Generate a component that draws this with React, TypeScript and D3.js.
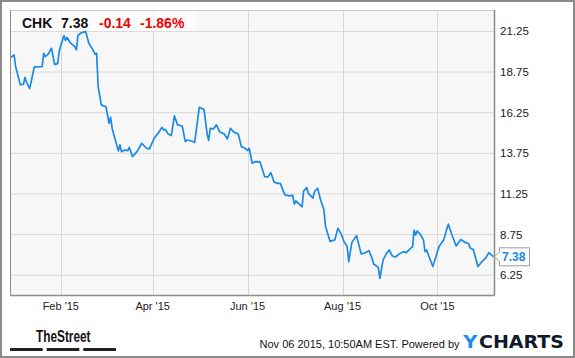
import React from "react";
import * as d3 from "d3";

const dates = [
  "2014-12-31","2015-01-02","2015-01-03","2015-01-06","2015-01-08","2015-01-09","2015-01-10","2015-01-12",
  "2015-01-14","2015-01-15","2015-01-20","2015-01-21","2015-01-22","2015-01-24","2015-01-26","2015-01-28",
  "2015-01-30","2015-01-31","2015-02-03","2015-02-04","2015-02-05","2015-02-07","2015-02-10","2015-02-11",
  "2015-02-12","2015-02-14","2015-02-17","2015-02-19","2015-02-21","2015-02-23","2015-02-24","2015-02-25",
  "2015-02-27","2015-03-02","2015-03-04","2015-03-05","2015-03-06","2015-03-08","2015-03-10","2015-03-11",
  "2015-03-12","2015-03-14","2015-03-16","2015-03-17","2015-03-18","2015-03-19","2015-03-22","2015-03-25",
  "2015-03-28","2015-03-30","2015-04-02","2015-04-05","2015-04-07","2015-04-08","2015-04-09","2015-04-11",
  "2015-04-13","2015-04-15","2015-04-17","2015-04-20","2015-04-22","2015-04-23","2015-04-26","2015-04-28",
  "2015-05-01","2015-05-04","2015-05-06","2015-05-07","2015-05-08","2015-05-10","2015-05-12","2015-05-14",
  "2015-05-17","2015-05-19","2015-05-21","2015-05-23","2015-05-26","2015-05-28","2015-05-30","2015-06-01",
  "2015-06-02","2015-06-04","2015-06-06","2015-06-09","2015-06-12","2015-06-14","2015-06-16","2015-06-18",
  "2015-06-20","2015-06-22","2015-06-25","2015-06-28","2015-06-30","2015-07-01","2015-07-02","2015-07-06",
  "2015-07-07","2015-07-09","2015-07-10","2015-07-13","2015-07-14","2015-07-16","2015-07-18","2015-07-20",
  "2015-07-21","2015-07-24","2015-07-27","2015-07-29","2015-07-31","2015-08-02","2015-08-04","2015-08-05",
  "2015-08-07","2015-08-10","2015-08-13","2015-08-15","2015-08-18","2015-08-20","2015-08-21","2015-08-24",
  "2015-08-25","2015-08-27","2015-08-29","2015-08-31","2015-09-02","2015-09-04","2015-09-06","2015-09-09",
  "2015-09-11","2015-09-14","2015-09-15","2015-09-16","2015-09-17","2015-09-18","2015-09-20","2015-09-22",
  "2015-09-23","2015-09-24","2015-09-26","2015-09-28","2015-09-30","2015-10-02","2015-10-05","2015-10-07",
  "2015-10-08","2015-10-10","2015-10-13","2015-10-16","2015-10-19","2015-10-21","2015-10-22","2015-10-24",
  "2015-10-27","2015-10-29","2015-11-01","2015-11-03","2015-11-06"
];

const prices = [
  19.66,19.8,19.08,17.96,18.0,18.42,18.13,17.73,
  18.63,19.07,19.08,19.91,19.7,19.87,20.22,19.22,
  19.27,20.05,21.0,20.7,20.88,20.56,20.31,20.11,
  20.99,21.16,21.24,20.52,20.22,19.85,19.91,17.85,
  16.73,16.62,15.6,15.97,15.28,14.57,13.9,14.27,
  13.85,13.96,13.91,14.12,13.85,13.55,13.85,14.37,
  14.06,14.02,14.68,15.05,15.35,15.19,15.23,14.94,
  14.84,16.05,15.5,15.43,14.47,14.57,14.51,14.43,
  16.59,16.45,14.94,14.55,15.29,15.25,15.5,15.08,
  14.94,14.63,15.29,15.07,14.94,14.16,14.08,13.93,
  14.06,13.14,13.24,13.22,12.31,12.3,12.56,11.99,
  11.9,11.9,11.19,11.13,11.16,10.63,10.82,10.45,
  11.43,11.65,11.29,10.99,11.4,11.6,10.85,10.31,
  9.28,8.33,8.42,9.13,8.82,8.31,8.01,7.08,
  8.27,8.68,7.56,7.6,7.76,7.28,6.94,6.73,
  6.06,7.16,7.56,7.8,7.43,7.37,7.53,7.7,
  7.64,7.93,7.99,9.03,8.73,8.97,8.76,8.42,
  7.7,7.8,7.29,6.78,7.37,8.01,8.42,9.1,
  9.39,8.82,8.05,8.45,8.25,8.2,7.93,7.83,
  6.78,7.02,7.31,7.64,7.38
];

const xTickDates = ["2015-02-01", "2015-04-01", "2015-06-01", "2015-08-01", "2015-10-01"];
const yTicks = [6.25, 8.75, 11.25, 13.75, 16.25, 18.75, 21.25];
const xDomain = ["2014-12-31", "2015-11-06"];
const yDomain = [5.0, 22.57];

const ticker = "CHK";
const lastPrice = 7.38;
const change = "-0.14";
const changePct = "-1.86%";
const footerText = "Nov 06 2015, 10:50AM EST. Powered by";

const W = 575;
const H = 358;
const PL = 10, PR = 494.5, PT = 10, PB = 295.5;

const parse = d3.timeParse("%Y-%m-%d");
const fmtTick = d3.timeFormat("%b '%y");

export default function App() {
  React.useEffect(() => {
    document.body.style.margin = "0";
  }, []);

  const x = d3.scaleTime().domain(xDomain.map((d) => parse(d) as Date)).range([11, 493.5]);
  const y = d3.scaleLinear().domain(yDomain).range([PB, PT]);

  const pts = dates.map((d, i) => ({ date: parse(d) as Date, v: prices[i] }));
  const line = d3
    .line<{ date: Date; v: number }>()
    .x((d) => x(d.date))
    .y((d) => y(d.v));

  const lineColor = "#1a8ae6";
  const axisFont = "Liberation Sans, Arial, sans-serif";
  const ly = y(lastPrice);

  return (
    <svg
      width={W}
      height={H}
      style={{ position: "absolute", left: 0, top: 0, display: "block" }}
      fontFamily={axisFont}
    >
      <rect x={0} y={0} width={W} height={H} fill="#ffffff" />
      <rect x={PL} y={PT} width={PR - PL} height={PB - PT} fill="#f7f7f7" />
      {yTicks.map((t) => (
        <line key={"gy" + t} x1={PL} x2={PR} y1={y(t)} y2={y(t)} stroke="#d8d8d8" strokeWidth={1} />
      ))}
      {xTickDates.map((t) => {
        const xx = Math.round(x(parse(t) as Date)) + 0.5;
        return <line key={"gx" + t} x1={xx} x2={xx} y1={PT} y2={PB} stroke="#d8d8d8" strokeWidth={1} />;
      })}
      <path d={line(pts) || ""} fill="none" stroke={lineColor} strokeWidth={1.7} strokeLinejoin="round" />

      <rect x={PL + 0.5} y={PT + 0.5} width={185} height={20.5} fill="#ffffff" fillOpacity={0.65} />
      <text x={22} y={28} fontSize={14} fontWeight="bold" fill="#111">{ticker}</text>
      <text x={61} y={28} fontSize={14} fontWeight="bold" fill="#111">{lastPrice.toFixed(2)}</text>
      <text x={99} y={28} fontSize={14} fontWeight="bold" fill="#ee0000">{change}</text>
      <text x={140} y={28} fontSize={14} fontWeight="bold" fill="#ee0000">{changePct}</text>

      <line x1={PL} x2={PR} y1={PT + 0.5} y2={PT + 0.5} stroke="#cccccc" />
      <line x1={PL + 0.5} x2={PL + 0.5} y1={PT} y2={PB} stroke="#8c8c8c" />
      <line x1={PR} x2={PR} y1={PT} y2={PB} stroke="#8c8c8c" strokeWidth={1.5} />
      <line x1={PL} x2={PR} y1={PB} y2={PB} stroke="#8c8c8c" strokeWidth={1.5} />

      <path
        d={`M${PR},${ly} L${PR + 5},${ly - 5} L${PR + 5},${ly - 9} L${PR + 35},${ly - 9} L${PR + 35},${ly + 9} L${PR + 5},${ly + 9} L${PR + 5},${ly + 5} Z`}
        fill="#ffffff"
        stroke="#9a9a9a"
        strokeWidth={1}
      />
      <text x={PR + 7.5} y={ly + 4.5} fontSize={12} fontWeight="bold" fill={lineColor}>
        {lastPrice.toFixed(2)}
      </text>

      {yTicks.map((t) => (
        <text key={"ty" + t} x={500} y={y(t) + 4} fontSize={11.5} fill="#222">
          {t.toFixed(2)}
        </text>
      ))}
      {xTickDates.map((t) => (
        <text key={"tx" + t} x={x(parse(t) as Date)} y={309.5} fontSize={11} fill="#222" textAnchor="middle">
          {fmtTick(parse(t) as Date)}
        </text>
      ))}

      <text
        x={36}
        y={341.5}
        fontSize={16}
        fontWeight="bold"
        fontFamily="Liberation Sans Narrow, Liberation Sans, Arial, sans-serif"
        fill="#111"
        textLength={54.5}
        lengthAdjust="spacingAndGlyphs"
      >
        TheStreet
      </text>
      <rect x={10} y={348} width={32.7} height={3} fill="#222" />
      <rect x={46.7} y={348} width={32.6} height={3} fill="#222" />
      <rect x={83.3} y={348} width={32.7} height={3} fill="#222" />

      <text x={459.5} y={348.3} fontSize={11} fill="#111" textAnchor="end">
        {footerText}
      </text>
      <text
        x={463.3}
        y={348.3}
        fontSize={17}
        fontWeight="bold"
        fontFamily="DejaVu Sans, sans-serif"
        fill="#1a8cf0"
        textLength={14}
        lengthAdjust="spacingAndGlyphs"
      >
        Y
      </text>
      <text
        x={479}
        y={348.3}
        fontSize={17}
        fontWeight="bold"
        fontFamily="DejaVu Sans, sans-serif"
        fill="#0f1a2b"
        textLength={85}
        lengthAdjust="spacingAndGlyphs"
      >
        CHARTS
      </text>

      <rect x={1} y={1} width={W - 2} height={H - 2} fill="none" stroke="#8a8a8a" strokeWidth={2} />
    </svg>
  );
}
